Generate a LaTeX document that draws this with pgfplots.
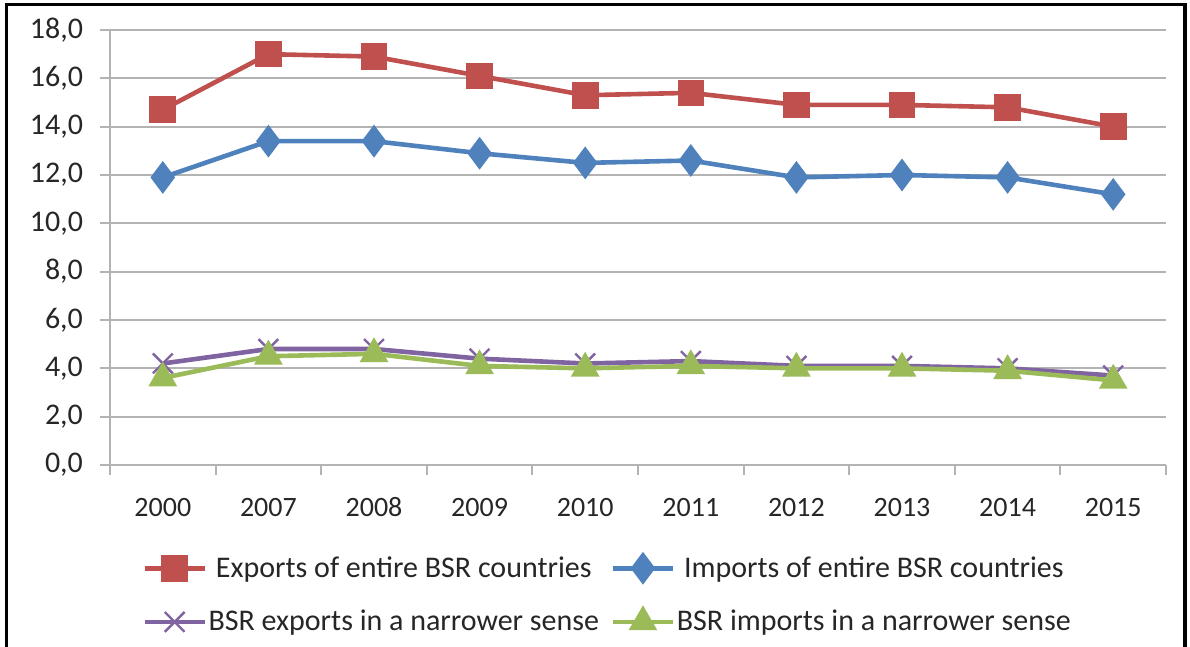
\documentclass[border=0pt]{standalone}
\usepackage{pgfplots}
\pgfplotsset{compat=1.18}
\usepackage{fontspec}
\setmainfont{Carlito}
\definecolor{cred}{HTML}{C0504D}
\definecolor{cblue}{HTML}{4F81BD}
\definecolor{cpurple}{HTML}{8064A2}
\definecolor{cgreen}{HTML}{9BBB59}
\definecolor{cgrid}{HTML}{B3B3B3}
\definecolor{ctext}{HTML}{262626}
\begin{document}
\begin{tikzpicture}[x=1pt,y=1pt]
\useasboundingbox (0,0) rectangle (595,323.5);
\draw[line width=1.8pt] (3.25,-2) -- (3.25,321.25) -- (592.5,321.25) -- (592.5,-2);
\begin{axis}[
  at={(55pt,91pt)}, anchor=south west,
  scale only axis, width=528pt, height=217.5pt,
  xmin=-0.5, xmax=9.5, ymin=0, ymax=18,
  ytick={0,2,...,18},
  xtick={0,...,9},
  xticklabels={2000,2007,2008,2009,2010,2011,2012,2013,2014,2015},
  minor xtick={-0.5,0.5,...,9.5},
  major x tick style={draw=none},
  minor x tick style={cgrid, line width=1pt},
  y tick style={cgrid, line width=1pt},
  tick align=outside,
  major tick length=5pt, minor tick length=5pt,
  axis x line*=bottom, axis y line*=left,
  axis line style={cgrid, line width=1pt, -},
  ymajorgrids, grid style={cgrid, line width=1pt},
  xticklabel style={font=\fontsize{14}{16}\selectfont, text=ctext, yshift=-7pt,
    text height=10pt, text depth=0pt},
  yticklabel style={font=\fontsize{15}{17}\selectfont, text=ctext, xshift=-5pt,
    /pgf/number format/.cd, use comma, fixed, fixed zerofill, precision=1, assume math mode=true},
  legend columns=2,
  legend style={at={(0.471,-0.299)}, anchor=center, draw=none, fill=none,
    font=\fontsize{15}{17}\selectfont, text=ctext,
    row sep=11pt, inner sep=0pt, nodes={inner xsep=0.8pt},
    /tikz/every even column/.append style={column sep=5pt}},
  legend image code/.code={
    \draw[mark repeat=2,mark phase=2,#1] plot coordinates {(0pt,0pt) (15pt,0pt) (30pt,0pt)};},
  every axis plot/.append style={line width=2.3pt},
]
\addplot[cred, mark=square*, mark size=5.5pt, mark options={solid}] coordinates {
 (0,14.7) (1,17.0) (2,16.9) (3,16.1) (4,15.3) (5,15.4) (6,14.9) (7,14.9) (8,14.8) (9,14.0)};
\addlegendentry{Exports of entire BSR countries}
\addplot[cblue, mark=diamond*, mark size=6.3pt, mark options={solid}] coordinates {
 (0,11.9) (1,13.4) (2,13.4) (3,12.9) (4,12.5) (5,12.6) (6,11.9) (7,12.0) (8,11.9) (9,11.2)};
\addlegendentry{Imports of entire BSR countries}
\addplot[cpurple, mark=x, mark size=7pt, mark options={solid, line width=1.2pt}] coordinates {
 (0,4.2) (1,4.8) (2,4.8) (3,4.4) (4,4.2) (5,4.3) (6,4.1) (7,4.1) (8,4.0) (9,3.7)};
\addlegendentry{BSR exports in a narrower sense}
\addplot[cgreen, mark=triangle*, mark size=6pt, mark options={solid}] coordinates {
 (0,3.6) (1,4.5) (2,4.6) (3,4.1) (4,4.0) (5,4.1) (6,4.0) (7,4.0) (8,3.9) (9,3.5)};
\addlegendentry{BSR imports in a narrower sense}
\end{axis}
\end{tikzpicture}
\end{document}
